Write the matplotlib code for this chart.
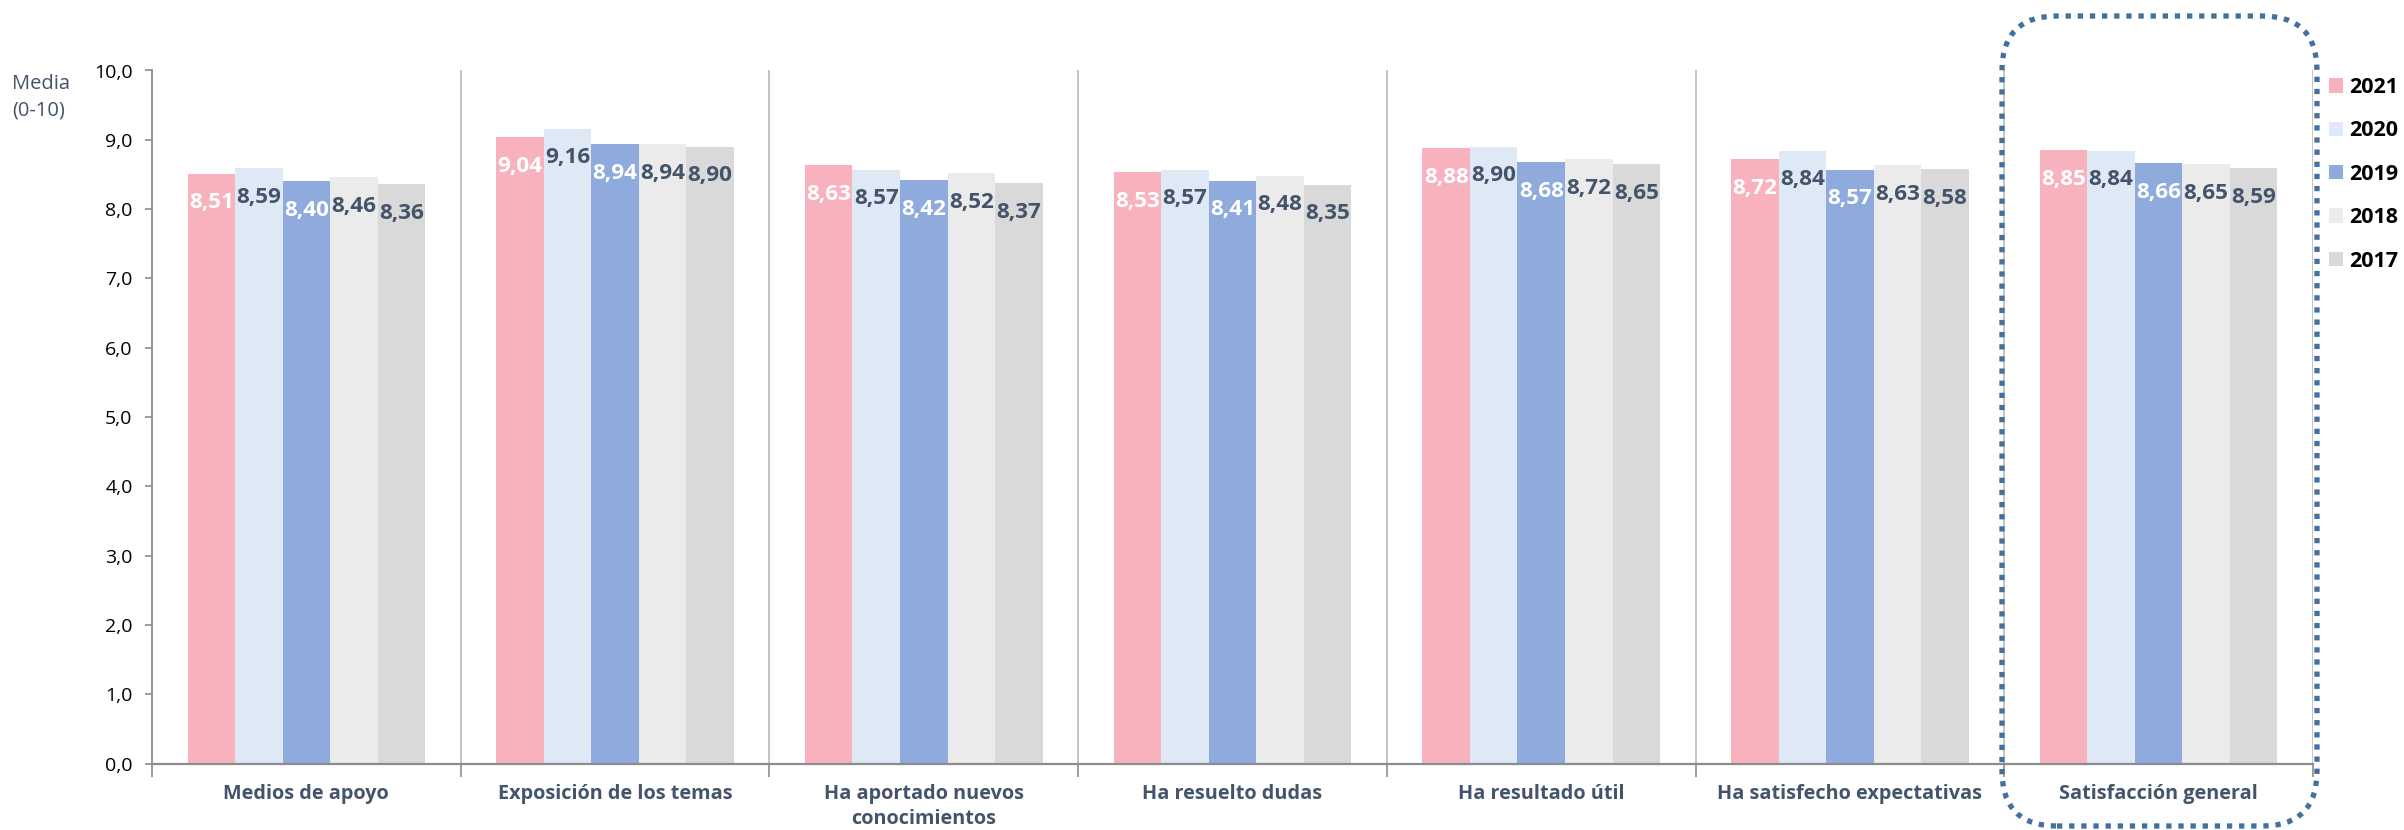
import matplotlib
matplotlib.use("Agg")
import matplotlib.pyplot as plt
from matplotlib.patches import FancyBboxPatch, Patch
from matplotlib.transforms import IdentityTransform
import numpy as np

plt.rcParams['font.family'] = ['Open Sans', 'DejaVu Sans']

categories = ["Medios de apoyo", "Exposición de los temas", "Ha aportado nuevos\nconocimientos",
              "Ha resuelto dudas", "Ha resultado útil", "Ha satisfecho expectativas",
              "Satisfacción general"]
years = ["2021", "2020", "2019", "2018", "2017"]
v2021 = [8.51, 9.04, 8.63, 8.53, 8.88, 8.72, 8.85]
v2020 = [8.59, 9.16, 8.57, 8.57, 8.90, 8.84, 8.84]
v2019 = [8.40, 8.94, 8.42, 8.41, 8.68, 8.57, 8.66]
v2018 = [8.46, 8.94, 8.52, 8.48, 8.72, 8.63, 8.65]
v2017 = [8.36, 8.90, 8.37, 8.35, 8.65, 8.58, 8.59]
series = [v2021, v2020, v2019, v2018, v2017]
yticks = [0, 1, 2, 3, 4, 5, 6, 7, 8, 9, 10]

colors = ["#F8B2BD", "#DEE9F5", "#8FAADC", "#EBEBEB", "#D9D9D9"]
label_colors = ["white", "#44546A", "white", "#44546A", "#44546A"]
dark = "#44546A"
axis_gray = "#8C8C8C"

W, H = 2404, 830
fig = plt.figure(figsize=(W / 100, H / 100), dpi=100)
ax = fig.add_axes([152 / W, 1 - 763.5 / H, (2313 - 152) / W, (763.5 - 70.5) / H])

x = np.arange(len(categories))
bw = 0.154
for i, (vals, c, lc) in enumerate(zip(series, colors, label_colors)):
    xs = x + (i - 2) * bw
    ax.bar(xs, vals, width=bw, color=c, edgecolor='none', zorder=2, label=years[i])
    for xi, v in zip(xs, vals):
        ax.text(xi, v - 0.42, f"{v:.2f}".replace('.', ','), ha='center', va='center',
                color=lc, fontsize=16.2, fontweight='bold', zorder=3)

ax.set_xlim(-0.5, len(categories) - 0.5)
ax.set_ylim(0, 10)
for b in np.arange(0.5, len(categories), 1.0):
    ax.plot([b, b], [0, 10], color="#BFBFBF", lw=1.3, zorder=1)

ax.set_yticks(yticks)
ax.set_yticklabels([f"{t:.1f}".replace('.', ',') for t in yticks], fontsize=14, color='black')
ax.tick_params(axis='y', length=5, width=1.2, color=axis_gray, pad=9)
ax.set_xticks(x)
ax.set_xticklabels(categories, fontsize=14.3, fontweight='bold', color=dark, linespacing=1.3)
ax.tick_params(axis='x', length=0, pad=15)
ax.set_xticks(np.arange(-0.5, len(categories), 1.0), minor=True)
ax.tick_params(axis='x', which='minor', length=9, width=1.2, color=axis_gray, direction='out')

for s in ['top', 'right']:
    ax.spines[s].set_visible(False)
ax.spines['left'].set_color(axis_gray)
ax.spines['left'].set_linewidth(1.3)
ax.spines['bottom'].set_color(axis_gray)
ax.spines['bottom'].set_linewidth(1.6)
ax.spines['bottom'].set_zorder(4)

fig.text(12 / W, 1 - 74 / H, "Media\n(0-10)", fontsize=14.5, color=dark, ha='left', va='top',
         linespacing=1.45)

handles = [Patch(facecolor=c, edgecolor='none') for c in colors]
fig.legend(handles, years, loc='upper left', bbox_to_anchor=(2329 / W, 1 - 77 / H),
           frameon=False, prop={'size': 15.5, 'weight': 'bold'}, handlelength=0.65,
           handleheight=0.65, handletextpad=0.3, labelspacing=1.04, borderaxespad=0,
           borderpad=0)

box = FancyBboxPatch((2002, H - 826), 2317 - 2002, 826 - 16,
                     boxstyle="round,pad=0,rounding_size=55", transform=IdentityTransform(),
                     facecolor='none', edgecolor="#41719C", lw=3.8,
                     linestyle=(0, (1, 1.3)), capstyle='butt', zorder=10)
fig.patches.append(box)
box.set_figure(fig)

fig.savefig("out.png", dpi=100)
